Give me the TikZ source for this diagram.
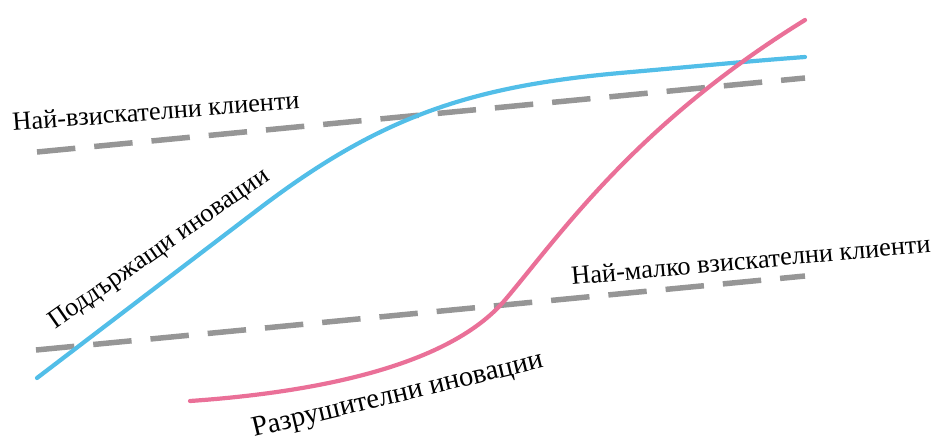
\documentclass[tikz,border=0pt]{standalone}
\usepackage{fontspec}
\setmainfont{Liberation Serif}
\newfontfamily\labelfont{Liberation Serif}
\definecolor{skyblue}{RGB}{82,190,232}
\definecolor{rosepink}{RGB}{234,112,152}
\definecolor{dashgray}{RGB}{150,150,150}
\begin{document}
\begin{tikzpicture}[x=1pt,y=-1pt,
  curve/.style={line width=4.2pt, line cap=round},
  limit/.style={line width=5.5pt, color=dashgray, dash pattern=on 38.5pt off 19pt},
  lbl/.style={font=\labelfont\fontsize{26.3}{30}\selectfont, inner sep=0pt, anchor=base west}]
\useasboundingbox (0,0) rectangle (939,442);
% demand lines
\coordinate (hiA) at (37,152);
\coordinate (hiB) at (805,78);
\coordinate (loA) at (36,350);
\coordinate (loB) at (805,276);
\draw[limit] (hiA) -- (hiB);
\draw[limit] (loA) -- (loB);
% sustaining innovations
\coordinate (s0) at (37,378);
\coordinate (s1) at (260,208);
\coordinate (s2) at (620,73);
\coordinate (s3) at (805,57);
\draw[curve, skyblue] (s0) -- (s1) .. controls (380,116.8) and (470,86.5) .. (s2)
  .. controls (700,66) and (750,61) .. (s3);
% disruptive innovations
\coordinate (d0) at (190,401);
\coordinate (d1) at (505,300);
\coordinate (d2) at (805,20);
\draw[curve, rosepink] (d0) .. controls (320,392) and (450,365) .. (d1)
  .. controls (560,235) and (635,125) .. (d2);
% labels
\node[lbl, rotate=4.5] (hiL) at (13,131) {Най-взискателни клиенти};
\node[lbl, rotate=5.2] (loL) at (572,285) {Най-малко взискателни клиенти};
\node[lbl, rotate=35] (susL) at (55,330) {Поддържащи иновации};
\node[lbl, rotate=13.5, font=\labelfont\fontsize{28.5}{32}\selectfont] (disL) at (254,437) {Разрушителни иновации};
\end{tikzpicture}
\end{document}
